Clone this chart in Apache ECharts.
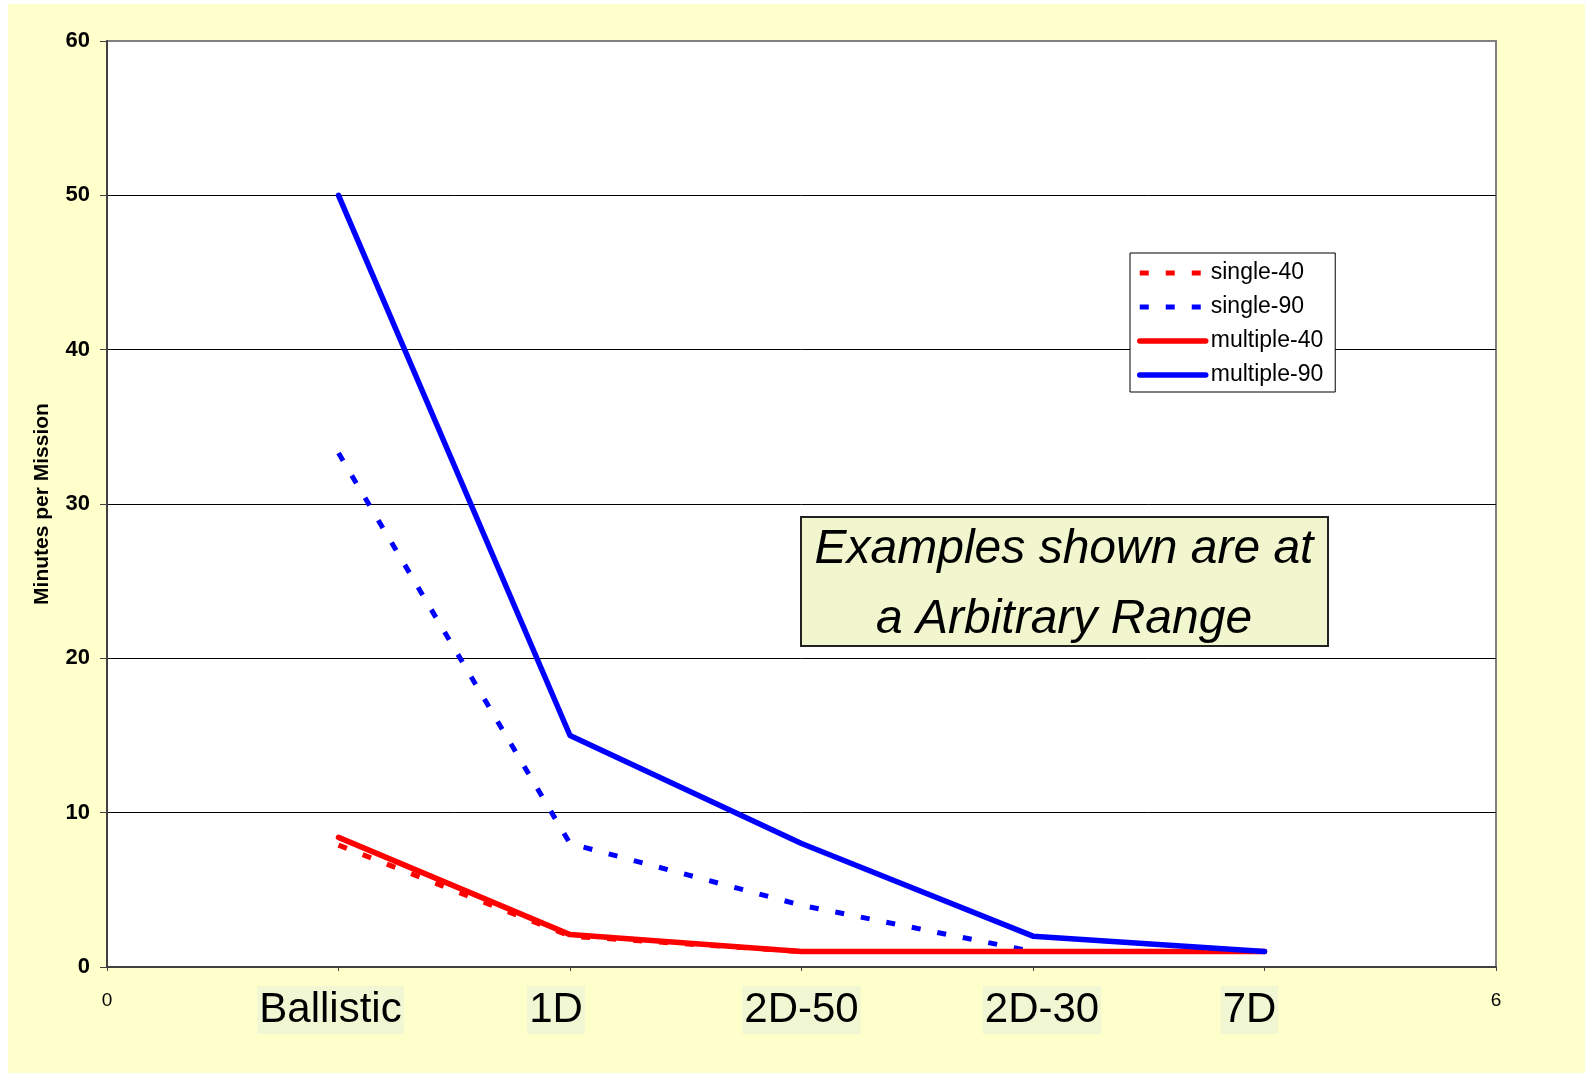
<!DOCTYPE html>
<html>
<head>
<meta charset="utf-8">
<script src="https://cdn.jsdelivr.net/npm/echarts@6/dist/echarts.min.js"></script>
<style>
html,body{margin:0;padding:0;background:#fff;}
#chart{width:1585px;height:1073px;background:linear-gradient(#FFFFCC,#FFFFCC) no-repeat 8px 4px / 1577px 1069px, #ffffff;}
</style>
</head>
<body>
<div id="chart"></div>
<script>
// ---- data ----
const categories = ['Ballistic', '1D', '2D-50', '2D-30', '7D'];
const xPositions = [1, 2, 3, 4, 5];
const single40   = [7.9, 2.0, 1.0, 1.0, 1.0];
const single90   = [33.3, 8.0, 4.0, 1.0, 1.0];
const multiple40 = [8.4, 2.1, 1.0, 1.0, 1.0];
const multiple90 = [50, 15, 8, 2, 1];
const seriesNames = ['single-40', 'single-90', 'multiple-40', 'multiple-90'];
const yTicks = [0, 10, 20, 30, 40, 50, 60];
const noteLines = ['Examples shown are at', 'a Arbitrary Range'];

// ---- styling ----
const FONT = '"Liberation Sans", Arial, sans-serif';
// horizontal nudge (px) of each category label relative to its tick, as in the original
const labelNudge = [-8, -14, 0, 9, -15];

const pairs = (vals) => xPositions.map((x, i) => [x, vals[i]]);

const chart = echarts.init(document.getElementById('chart'), null, {renderer: 'canvas'});

function lineSeries(name, vals, color, dashed) {
  return {
    name: name,
    type: 'line',
    data: pairs(vals),
    symbol: 'none',
    showSymbol: false,
    silent: true,
    animation: false,
    color: color,
    lineStyle: dashed
      ? {color: color, width: 5, type: [9, 17], cap: 'butt'}
      : {color: color, width: 5.5, type: 'solid', cap: 'round', join: 'round'}
  };
}

const rich = {
  big: {fontFamily: FONT, fontSize: 42, lineHeight: 46, color: '#000',
        backgroundColor: '#F1F6D3', padding: [3, 2, 3, 2]},
  small: {fontFamily: FONT, fontSize: 19, lineHeight: 20, color: '#000',
          padding: [8, 0, 0, 0]}
};
labelNudge.forEach(function (n, i) {
  rich['g' + i] = {fontSize: 10, width: Math.abs(n) * 2};
});

const option = {
  animation: false,
  backgroundColor: 'transparent',
  textStyle: {fontFamily: FONT},
  grid: {
    left: 107, right: 89, top: 41, bottom: 106,
    show: true, backgroundColor: '#ffffff',
    borderColor: '#808080', borderWidth: 2
  },
  legend: {
    data: seriesNames,
    orient: 'vertical',
    left: 1130, top: 253,
    backgroundColor: '#ffffff',
    borderColor: '#000000', borderWidth: 1,
    padding: [8, 12, 5, 7],
    itemWidth: 66, itemHeight: 14,
    itemGap: 10,
    itemStyle: {opacity: 0},
    lineStyle: {width: 'inherit', type: 'inherit'},
    textStyle: {fontFamily: FONT, fontSize: 23, color: '#000', lineHeight: 24}
  },
  xAxis: {
    type: 'value', min: 0, max: 6, interval: 1,
    splitLine: {show: false},
    axisLine: {show: true, onZero: false, lineStyle: {color: '#404040', width: 2}},
    axisTick: {show: true, length: 4, lineStyle: {color: '#404040', width: 1}},
    axisLabel: {
      margin: 20,
      formatter: function (v) {
        const idx = xPositions.indexOf(v);
        if (idx >= 0) {
          const n = labelNudge[idx];
          const main = '{big|' + categories[idx] + '}';
          if (n < 0) return main + '{g' + idx + '| }';
          if (n > 0) return '{g' + idx + '| }' + main;
          return main;
        }
        return '{small|' + v + '}';
      },
      rich: rich
    }
  },
  yAxis: {
    type: 'value', min: 0, max: 60, interval: 10,
    name: 'Minutes per Mission',
    nameLocation: 'middle', nameGap: 54, nameRotate: 90,
    nameTextStyle: {fontFamily: FONT, fontSize: 21, fontWeight: 'bold', color: '#000'},
    axisLine: {show: true, lineStyle: {color: '#404040', width: 2}},
    axisTick: {show: true, length: 7, lineStyle: {color: '#404040', width: 1}},
    axisLabel: {margin: 17, fontFamily: FONT, fontSize: 22, fontWeight: 'bold', color: '#000',
      formatter: function (v) { return yTicks.indexOf(v) >= 0 ? String(v) : ''; }},
    splitLine: {show: true, lineStyle: {color: ['#000', '#000', '#000', '#000', '#000', '#000', '#808080'], width: 1}}
  },
  graphic: [{
    type: 'group', left: 800, top: 516, z: 100,
    children: [
      {type: 'rect', shape: {x: 0, y: 0, width: 527, height: 129},
       style: {fill: '#F1F6CF', stroke: '#222', lineWidth: 2}},
      {type: 'text', x: 263, y: 33,
       style: {text: noteLines[0], font: 'italic 48px ' + FONT, fill: '#000', align: 'center', verticalAlign: 'middle'}},
      {type: 'text', x: 263, y: 103,
       style: {text: noteLines[1], font: 'italic 48px ' + FONT, fill: '#000', align: 'center', verticalAlign: 'middle'}}
    ]
  }],
  series: [
    lineSeries(seriesNames[0], single40, '#FF0000', true),
    lineSeries(seriesNames[1], single90, '#0000FF', true),
    lineSeries(seriesNames[2], multiple40, '#FF0000', false),
    lineSeries(seriesNames[3], multiple90, '#0000FF', false)
  ]
};
chart.setOption(option);
</script>
</body>
</html>
